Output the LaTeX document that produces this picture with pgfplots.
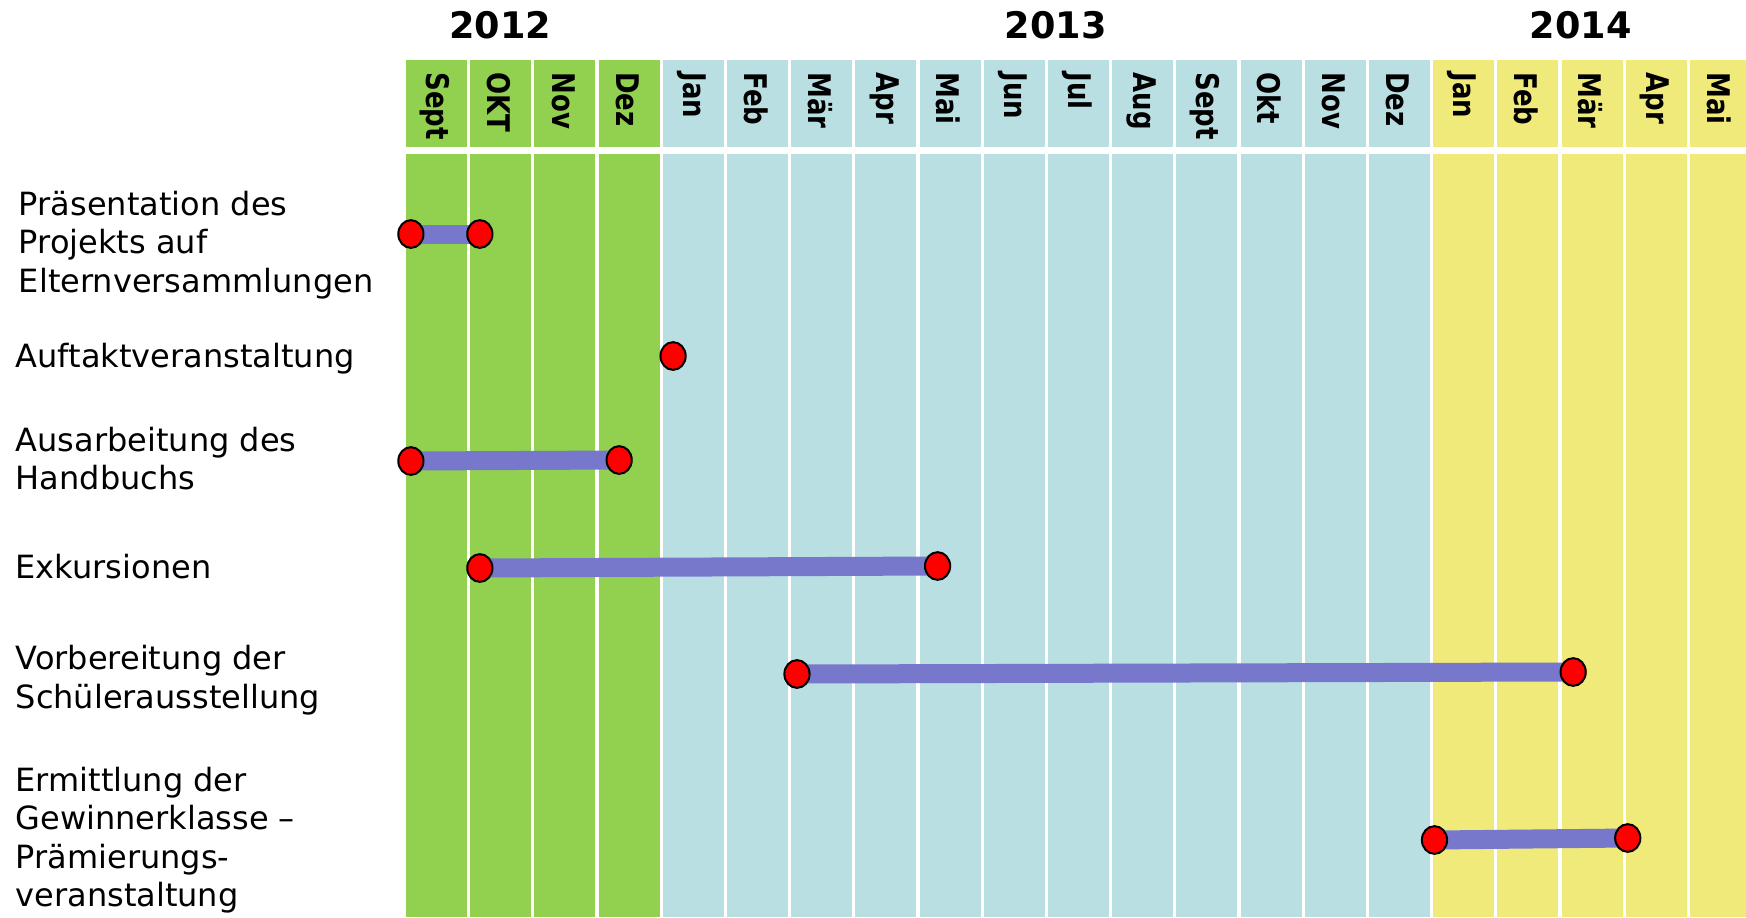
\documentclass[border=0pt]{standalone}
\usepackage{pgfplots}
\pgfplotsset{compat=1.18}
\usepackage{fontspec}
\setmainfont{DejaVu Sans}
\definecolor{cgreen}{RGB}{146,208,80}
\definecolor{cblue}{RGB}{185,223,227}
\definecolor{cyellow}{RGB}{240,234,122}
\definecolor{cbar}{RGB}{119,119,204}
\newcommand{\labfont}{\fontsize{16}{19.2}\selectfont}
\newcommand{\monfont}{\fontsize{13}{15}\selectfont\bfseries}
\newcommand{\yearfont}{\fontsize{18.3}{20}\selectfont\bfseries}
\newcommand{\mon}[1]{\scalebox{1}[1.2]{#1}}
\tikzset{
  mlab/.style={rotate=-90, anchor=west, inner sep=0pt, font=\monfont},
  rlab/.style={anchor=west, align=left, inner sep=0pt, font=\labfont},
}
\begin{document}
\begin{tikzpicture}
\begin{axis}[
  hide axis, scale only axis,
  width=873pt, height=458.5pt,
  xmin=-6.3240, xmax=20.8723,
  ymin=0, ymax=917, y dir=reverse,
  clip=true,
  dot/.style={only marks, mark=*, mark size=6.3pt,
    mark options={fill=red, draw=black, line width=1pt, yscale=1.1}},
  bar/.style={color=cbar, line width=9.5pt, no marks},
]
% month columns (header and body)
\pgfplotsinvokeforeach{0,1,2,3}{
  \fill[cgreen] (axis cs:#1,60) rectangle (axis cs:#1+0.95,147);
  \fill[cgreen] (axis cs:#1,154) rectangle (axis cs:#1+0.95,917);
}
\pgfplotsinvokeforeach{4,5,6,7,8,9,10,11,12,13,14,15}{
  \fill[cblue] (axis cs:#1,60) rectangle (axis cs:#1+0.95,147);
  \fill[cblue] (axis cs:#1,154) rectangle (axis cs:#1+0.95,917);
}
\pgfplotsinvokeforeach{16,17,18,19,20}{
  \fill[cyellow] (axis cs:#1,60) rectangle (axis cs:#1+0.95,147);
  \fill[cyellow] (axis cs:#1,154) rectangle (axis cs:#1+0.95,917);
}
% years
\node[font=\yearfont] at (axis cs:1.464,25.5) {2012};
\node[font=\yearfont] at (axis cs:10.12,25.5) {2013};
\node[font=\yearfont] at (axis cs:18.30,25.5) {2014};
% months
\node[mlab] at (axis cs:0.45,72) {\mon{Sept}};
\node[mlab] at (axis cs:1.45,72) {\mon{OKT}};
\node[mlab] at (axis cs:2.45,72) {\mon{Nov}};
\node[mlab] at (axis cs:3.45,72) {\mon{Dez}};
\node[mlab] at (axis cs:4.45,72) {\mon{Jan}};
\node[mlab] at (axis cs:5.45,72) {\mon{Feb}};
\node[mlab] at (axis cs:6.45,72) {\mon{Mär}};
\node[mlab] at (axis cs:7.45,72) {\mon{Apr}};
\node[mlab] at (axis cs:8.45,72) {\mon{Mai}};
\node[mlab] at (axis cs:9.45,72) {\mon{Jun}};
\node[mlab] at (axis cs:10.45,72) {\mon{Jul}};
\node[mlab] at (axis cs:11.45,72) {\mon{Aug}};
\node[mlab] at (axis cs:12.45,72) {\mon{Sept}};
\node[mlab] at (axis cs:13.45,72) {\mon{Okt}};
\node[mlab] at (axis cs:14.45,72) {\mon{Nov}};
\node[mlab] at (axis cs:15.45,72) {\mon{Dez}};
\node[mlab] at (axis cs:16.45,72) {\mon{Jan}};
\node[mlab] at (axis cs:17.45,72) {\mon{Feb}};
\node[mlab] at (axis cs:18.45,72) {\mon{Mär}};
\node[mlab] at (axis cs:19.45,72) {\mon{Apr}};
\node[mlab] at (axis cs:20.45,72) {\mon{Mai}};
% row labels
\node[rlab] at (axis cs:-6.035,245) {Präsentation des\\Projekts auf\\Elternversammlungen};
\node[rlab] at (axis cs:-6.085,358.3) {Auftaktveranstaltung};
\node[rlab] at (axis cs:-6.085,458.8) {Ausarbeitung des\\Handbuchs};
\node[rlab] at (axis cs:-6.085,566.8) {Exkursionen};
\node[rlab] at (axis cs:-6.085,680.3) {Vorbereitung der\\Schülerausstellung};
\node[rlab] at (axis cs:-6.085,840.1) {Ermittlung der\\Gewinnerklasse –\\Prämierungs-\\veranstaltung};
% bars (start month, end month)
\addplot[bar] coordinates {(0.076,234) (1.15,234)};
\addplot[bar] coordinates {(0.076,461) (3.32,460)};
\addplot[bar] coordinates {(1.15,568) (8.28,566)};
\addplot[bar] coordinates {(6.09,674) (18.18,672)};
\addplot[bar] coordinates {(16.02,840) (19.03,838)};
% milestones
\addplot[dot] coordinates {(0.076,234) (1.15,234)};
\addplot[dot] coordinates {(4.16,356)};
\addplot[dot] coordinates {(0.076,461) (3.32,460)};
\addplot[dot] coordinates {(1.15,568) (8.28,566)};
\addplot[dot] coordinates {(6.09,674) (18.18,672)};
\addplot[dot] coordinates {(16.02,840) (19.03,838)};
\end{axis}
\pgfresetboundingbox
\useasboundingbox (current axis.south west) rectangle (current axis.north east);
\end{tikzpicture}
\end{document}
